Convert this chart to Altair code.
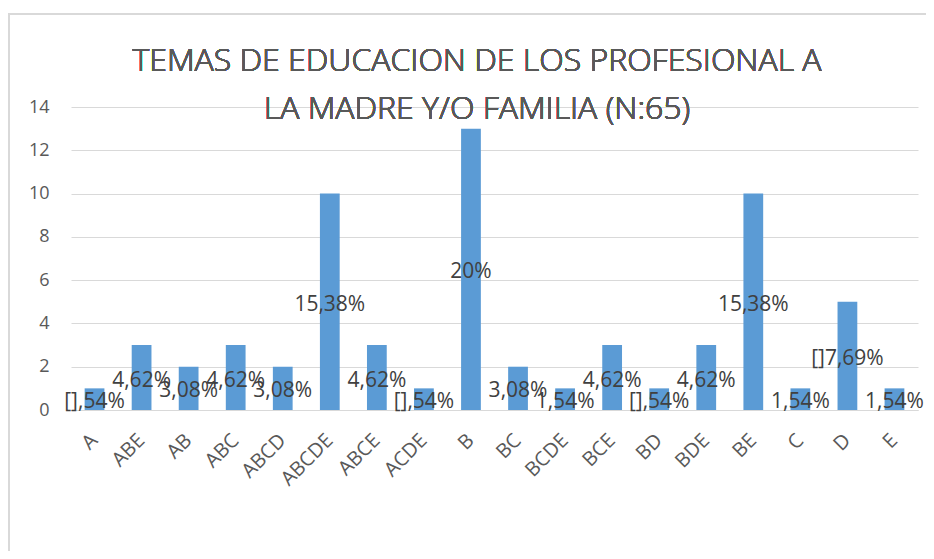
import altair as alt
import pandas as pd

categories = ["A", "ABE", "AB", "ABC", "ABCD", "ABCDE", "ABCE", "ACDE", "B",
              "BC", "BCDE", "BCE", "BD", "BDE", "BE", "C", "D", "E"]
counts = [1, 3, 2, 3, 2, 10, 3, 1, 13, 2, 1, 3, 1, 3, 10, 1, 5, 1]
pct_labels = ["[],54%", "4,62%", "3,08%", "4,62%", "3,08%", "15,38%", "4,62%",
              "[],54%", "20%", "3,08%", "1,54%", "4,62%", "[],54%", "4,62%",
              "15,38%", "1,54%", "[]7,69%", "1,54%"]
y_ticks = [0, 2, 4, 6, 8, 10, 12, 14]
title_lines = ["TEMAS DE EDUCACION DE LOS PROFESIONAL A", "LA MADRE Y/O FAMILIA (N:65)"]

df = pd.DataFrame({"cat": categories, "n": counts, "lab": pct_labels})

FONT = "Open Sans"
GRAY = "#d9d9d9"

x_enc = alt.X("cat:N", sort=categories, title=None,
              scale=alt.Scale(paddingInner=0.58, paddingOuter=0.29),
              axis=alt.Axis(labelAngle=-45, labelAlign="right", labelBaseline="middle",
                            labelFontSize=20, labelColor="#595959", labelFont=FONT,
                            ticks=False, domainColor=GRAY, labelPadding=27))
y_enc = alt.Y("n:Q", title=None, scale=alt.Scale(domain=[0, 14], nice=False),
              axis=alt.Axis(values=y_ticks, domain=False, ticks=False, gridColor=GRAY,
                            labelFontSize=18, labelColor="#595959", labelFont=FONT,
                            labelPadding=22))

frame = alt.Chart(df).mark_rect(fill=None, stroke=GRAY, strokeWidth=1.5).encode(
    x=alt.value(-62), x2=alt.value(880), y=alt.value(-93), y2=alt.value(500)
)

title1 = alt.Chart(df).mark_text(
    text=title_lines[0], font=FONT, fontSize=32, fontWeight=300, color="#595959",
    baseline="alphabetic", align="center"
).encode(x=alt.value(406), y=alt.value(-36))
title2 = alt.Chart(df).mark_text(
    text=title_lines[1], font=FONT, fontSize=32, fontWeight=300, color="#595959",
    baseline="alphabetic", align="center"
).encode(x=alt.value(406), y=alt.value(12))

bars = alt.Chart(df).mark_bar(color="#5B9BD5").encode(x=x_enc, y=y_enc)

labels = alt.Chart(df).transform_calculate(mid="datum.n / 2").mark_text(
    font=FONT, fontSize=21, color="#404040", baseline="middle", dy=3
).encode(x=alt.X("cat:N", sort=categories), y=alt.Y("mid:Q"), text="lab:N")

chart = alt.layer(frame, bars, title1, title2, labels).properties(
    width=847, height=303,
    autosize=alt.AutoSizeParams(type="none"),
    padding={"left": 63, "top": 99, "right": 8, "bottom": 141},
).configure_view(stroke=None)

chart.save("out.html", embed_options={"renderer": "svg", "actions": False})
